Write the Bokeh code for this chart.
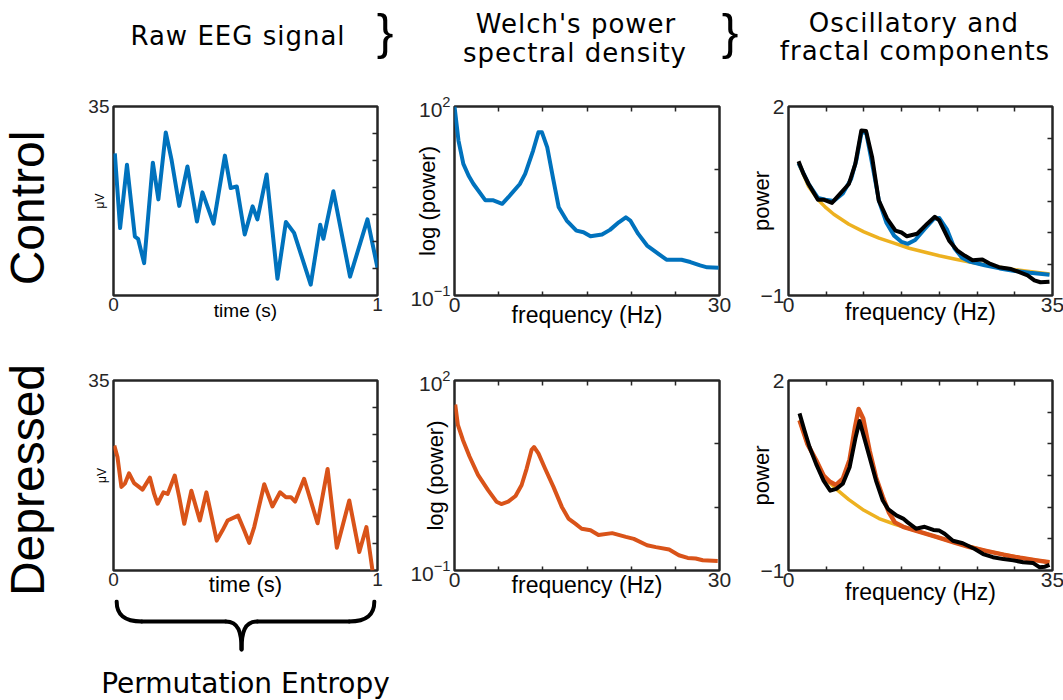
from bokeh.plotting import figure
from bokeh.models import Range1d, FixedTicker, LinearAxis, Div
from bokeh.layouts import row, column
from bokeh.embed import file_html
from bokeh.resources import INLINE

# ---------------- data ----------------
# Raw EEG, control (time in s, amplitude in uV)
ctrl_t = [0.005, 0.025, 0.051, 0.081, 0.093, 0.116, 0.149, 0.170, 0.198, 0.220, 0.249, 0.280,
          0.316, 0.337, 0.379, 0.422, 0.444, 0.467, 0.497, 0.527, 0.545, 0.580, 0.621, 0.653,
          0.684, 0.747, 0.783, 0.795, 0.833, 0.896, 0.962, 1.0]
ctrl_uv = [26.3, 12.5, 24.2, 10.9, 10.5, 6.0, 24.6, 17.8, 30.2, 25.1, 16.6, 23.9,
           13.7, 19.1, 13.3, 25.9, 19.9, 20.2, 11.3, 16.5, 14.1, 22.4, 3.1, 13.6,
           11.6, 2.0, 13.1, 10.5, 19.3, 3.5, 14.1, 5.1]
# Raw EEG, depressed
dep_t = [0.003, 0.015, 0.030, 0.043, 0.059, 0.078, 0.110, 0.138, 0.154, 0.167, 0.189, 0.205,
         0.232, 0.249, 0.268, 0.295, 0.327, 0.352, 0.391, 0.413, 0.432, 0.472, 0.495, 0.514,
         0.533, 0.571, 0.602, 0.631, 0.653, 0.672, 0.688, 0.722, 0.773, 0.811, 0.846, 0.893,
         0.931, 0.958, 0.981]
dep_uv = [23.0, 20.9, 15.4, 16.0, 17.9, 16.1, 14.9, 17.1, 14.1, 12.3, 14.4, 14.1,
          17.5, 13.5, 8.6, 14.7, 9.2, 14.4, 5.5, 7.4, 9.2, 10.1, 7.4, 5.1,
          8.0, 15.9, 11.8, 14.4, 13.5, 13.5, 12.7, 16.9, 8.7, 18.7, 4.2, 12.9,
          3.4, 8.0, 0.0]

# Welch PSD (frequency in Hz, power)
ctrl_psd_f = [0, 0.45, 1.0, 1.6, 2.15, 3.5, 4.4, 5.4, 6.1, 7.4, 8.0, 8.9, 9.5, 9.9, 10.5, 11.2,
              11.8, 12.7, 13.8, 14.6, 15.4, 16.7, 17.6, 18.6, 19.4, 19.9, 20.8, 21.8, 22.7,
              24.0, 25.7, 26.7, 27.8, 28.6, 29.9]
ctrl_psd = [100, 28.8, 12.3, 7.94, 5.89, 3.24, 3.24, 2.85, 3.63, 5.89, 8.51, 20.0, 38.9, 38.9,
            22.4, 6.76, 2.51, 1.55, 1.07, 1.01, 0.87, 0.93, 1.10, 1.45, 1.74, 1.55, 0.95, 0.62,
            0.50, 0.37, 0.37, 0.34, 0.30, 0.28, 0.275]
dep_psd_f = [0.08, 0.38, 0.95, 1.7, 2.66, 3.8, 4.75, 5.3, 6.08, 6.91, 7.6, 8.17, 8.73, 9.0, 9.5,
             10.25, 11.2, 12.15, 12.9, 13.67, 14.4, 15.4, 16.3, 17.85, 19.4, 20.3, 21.8, 22.8,
             24.3, 25.4, 26.4, 27.3, 28.1, 29.8]
dep_psd = [41.7, 20.0, 11.5, 6.31, 3.24, 1.86, 1.22, 1.12, 1.22, 1.50, 2.24, 4.07, 8.04, 8.91,
           7.08, 4.07, 2.09, 1.01, 0.66, 0.55, 0.457, 0.431, 0.363, 0.389, 0.339, 0.316, 0.251,
           0.234, 0.214, 0.174, 0.158, 0.155, 0.145, 0.141]

# Oscillatory and fractal components (log power)
ctrl_spec_f = [1.33, 2.0, 2.66, 3.9, 4.65, 5.76, 6.65, 8.0, 8.86, 9.66, 10.28, 11.08, 11.96,
               13.07, 14.18, 14.98, 15.7, 17.06, 18.4, 19.4, 20.0, 21.3, 22.4, 23.4, 24.4, 25.7,
               26.6, 27.9, 29.5, 30.6, 31.7, 32.6, 33.4, 34.6]
ctrl_spec = [1.13, 0.93, 0.77, 0.52, 0.52, 0.47, 0.59, 0.77, 1.09, 1.62, 1.61, 1.20, 0.51,
             0.22, 0.03, 0.0, -0.06, -0.02, 0.14, 0.25, 0.19, -0.13, -0.29, -0.37, -0.44, -0.43,
             -0.49, -0.55, -0.58, -0.63, -0.68, -0.76, -0.79, -0.78]
ctrl_model_f = [1.33, 2.66, 3.9, 4.9, 6.0, 7.2, 8.3, 9.0, 9.7, 10.3, 11.0, 12.0, 13.0, 14.0, 15.0,
                15.8, 16.8, 18.0, 19.3, 20.0, 21.0, 22.0, 23.0, 24.0, 26.0, 28.0, 30.0, 32.0, 34.6]
ctrl_model = [1.10, 0.77, 0.55, 0.52, 0.50, 0.62, 0.85, 1.15, 1.60, 1.58, 1.15, 0.50, 0.15,
              -0.05, -0.15, -0.18, -0.12, 0.05, 0.22, 0.23, 0.05, -0.25, -0.40, -0.46, -0.52,
              -0.57, -0.61, -0.64, -0.67]
ctrl_aper_f = [1.33, 2.66, 4.0, 5.0, 6.0, 8.0, 10.0, 12.0, 14.0, 16.0, 18.0, 20.0, 22.0, 24.0,
               27.0, 30.0, 34.6]
ctrl_aper = [1.10, 0.73, 0.51, 0.39, 0.29, 0.13, 0.01, -0.09, -0.17, -0.25, -0.31, -0.37, -0.42,
             -0.47, -0.53, -0.59, -0.66]

dep_spec_f = [1.46, 2.12, 2.79, 3.67, 4.65, 5.53, 6.33, 7.2, 8.1, 8.9, 9.42, 9.96, 10.75, 11.6,
              12.5, 13.2, 14.3, 15.2, 15.8, 16.9, 18.05, 19.2, 20.0, 20.7, 21.8, 23.1, 24.7, 25.8,
              27.1, 28.5, 29.8, 31.1, 32.4, 33.3, 34.0, 34.6]
dep_spec = [1.48, 1.21, 0.95, 0.68, 0.42, 0.26, 0.29, 0.37, 0.63, 1.105, 1.36, 1.13, 0.79, 0.42,
            0.105, -0.03, -0.13, -0.18, -0.24, -0.34, -0.31, -0.36, -0.37, -0.42, -0.53, -0.57,
            -0.66, -0.74, -0.79, -0.82, -0.84, -0.87, -0.88, -0.95, -0.94, -0.91]
dep_model_f = [1.46, 2.5, 3.67, 4.65, 5.5, 6.3, 7.2, 8.1, 8.8, 9.3, 9.9, 10.75, 11.6, 12.5, 13.3,
               14.1, 15.2, 17.4, 19.6, 21.8, 24.0, 26.2, 28.5, 30.7, 32.9, 34.6]
dep_model = [1.37, 1.0, 0.74, 0.50, 0.40, 0.35, 0.45, 0.75, 1.25, 1.55, 1.40, 0.89, 0.47, 0.16,
             -0.08, -0.24, -0.31, -0.39, -0.47, -0.55, -0.63, -0.69, -0.75, -0.80, -0.84, -0.87]
dep_aper_f = [1.46, 2.5, 3.67, 4.65, 5.5, 6.3, 8.0, 10.0, 12.0, 14.1, 17.4, 21.8, 26.2, 30.7, 34.6]
dep_aper = [1.37, 1.0, 0.74, 0.50, 0.38, 0.29, 0.12, -0.05, -0.18, -0.27, -0.39, -0.55, -0.69,
            -0.80, -0.87]

# ticks
raw_x_ticks = [0, 1]
raw_y_ticks = [35]
raw_y_minor = [5, 10, 15, 20, 25, 30]
psd_x_ticks = [0, 30]
psd_x_minor = [5, 10, 15, 20, 25]
psd_y_ticks = [0.1, 100]
psd_y_minor = [1, 10]
comp_x_ticks = [0, 35]
comp_x_minor = [5, 10, 15, 20, 25, 30]
comp_y_ticks = [-1, 2]
comp_y_minor = [-0.5, 0, 0.5, 1, 1.5]

# ---------------- styling / layout constants ----------------
BLUE = "#0072BD"
ORANGE = "#D95319"
YELLOW = "#EDB120"
BLACK = "#000000"
AX = "#262626"
TICKFONT = "Liberation Sans"
TITLEFONT = "DejaVu Sans"

HEAD_H = 85
SIDE_W = 60
COL_A = (53, 264, 33)
COL_B = (44, 265, 26)
COL_C = (38, 264, 16)
ROW_1 = (21, 189, 40)
ROW_2A = (45, 190, 28)
ROW_2 = (45, 190, 130)


def style_axis(ax, size, standoff, minor_in=4):
    ax.axis_line_color = None
    ax.major_tick_in = 0
    ax.major_tick_out = 0
    ax.minor_tick_in = minor_in
    ax.minor_tick_out = 0
    ax.minor_tick_line_color = AX
    ax.minor_tick_line_width = 1.5
    ax.major_label_text_font = TICKFONT
    ax.major_label_text_font_size = f"{size}px"
    ax.major_label_text_color = AX
    ax.major_label_standoff = standoff


def axis_label(ax, text, size, standoff):
    ax.axis_label = text
    ax.axis_label_text_font = TICKFONT
    ax.axis_label_text_font_size = f"{size}px"
    ax.axis_label_text_font_style = "normal"
    ax.axis_label_text_color = BLACK
    ax.axis_label_standoff = standoff


def panel(col, rowspec, x_range, y_range, xt, xm, yt, ym, fs, y_log=False, top=True):
    l, fw, r = col
    t, fh, b = rowspec
    p = figure(frame_width=fw, frame_height=fh, min_border_left=l, min_border_right=r,
               min_border_top=t, min_border_bottom=b, x_range=x_range, y_range=y_range,
               y_axis_type="log" if y_log else "linear", toolbar_location=None,
               output_backend="svg", border_fill_color="white", background_fill_color="white")
    p.grid.visible = False
    p.outline_line_color = AX
    p.outline_line_width = 2.5
    p.outline_line_alpha = 1.0
    bottom = p.below[0]
    left = p.left[0]
    bottom.ticker = FixedTicker(ticks=xt, minor_ticks=xm)
    left.ticker = FixedTicker(ticks=yt, minor_ticks=[])
    style_axis(bottom, fs, 2)
    style_axis(left, fs, 4, minor_in=0)
    ra = LinearAxis(ticker=FixedTicker(ticks=[], minor_ticks=ym))
    style_axis(ra, fs, 0, minor_in=5)
    p.add_layout(ra, "right")
    if top:
        ta = LinearAxis(ticker=FixedTicker(ticks=[], minor_ticks=xm))
        style_axis(ta, fs, 0, minor_in=5)
        p.add_layout(ta, "above")
    return p, bottom, left


def place(text, x, y, size, font, rotate=False, spacing=0):
    rot = " rotate(-90deg)" if rotate else ""
    return (f'<div style="position:absolute;left:{x}px;top:{y}px;'
            f'transform:translate(-50%,-50%){rot};font-family:\'{font}\';font-size:{size}px;'
            f'letter-spacing:{spacing}px;line-height:1;white-space:nowrap;color:#000;">'
            f'{text}</div>')


def text_box(items, w, h):
    html = f'<div style="position:relative;width:{w}px;height:{h}px;">' + "".join(items) + "</div>"
    return Div(text=html, width=w, height=h, margin=0)


# ---------------- header ----------------
header = text_box([
    place("Raw EEG signal", 238, 36, 26, TITLEFONT, spacing=1),
    place("}", 385, 32, 50, TICKFONT),
    place("Welch's power", 576, 24, 26, TITLEFONT, spacing=1),
    place("spectral density", 575, 53, 26, TITLEFONT, spacing=1),
    place("}", 730, 32, 50, TICKFONT),
    place("Oscillatory and", 914, 23, 26, TITLEFONT, spacing=1),
    place("fractal components", 915, 51, 26, TITLEFONT, spacing=1),
], 1063, HEAD_H)

side1 = text_box([place("Control", 28, 208 - HEAD_H, 48, TICKFONT, rotate=True)],
                 SIDE_W, sum(ROW_1))
side2 = text_box([place("Depressed", 28, 480 - HEAD_H - sum(ROW_1), 48, TICKFONT, rotate=True)],
                 SIDE_W, sum(ROW_2))

# ---------------- row 1 : control ----------------
pA1, bA1, lA1 = panel(COL_A, ROW_1, Range1d(0, 1), Range1d(0, 35), raw_x_ticks, [], raw_y_ticks,
                      raw_y_minor, 19, top=False)
pA1.line(ctrl_t, ctrl_uv, line_width=4, color=BLUE, line_join="round")
axis_label(lA1, "\u03bcV", 12, -22)
axis_label(bA1, "time (s)", 19, -14)

pB1, bB1, lB1 = panel(COL_B, ROW_1, Range1d(0, 30), Range1d(0.1, 100), psd_x_ticks, psd_x_minor,
                      psd_y_ticks, psd_y_minor, 21, y_log=True)
pB1.line(ctrl_psd_f, ctrl_psd, line_width=4, color=BLUE, line_join="round")
axis_label(lB1, "log (power)", 22, -33)
axis_label(bB1, "frequency (Hz)", 23, -13)

pC1, bC1, lC1 = panel(COL_C, ROW_1, Range1d(0, 35), Range1d(-1, 2), comp_x_ticks, comp_x_minor,
                      comp_y_ticks, comp_y_minor, 21)
pC1.line(ctrl_aper_f, ctrl_aper, line_width=3.5, color=YELLOW, line_join="round")
pC1.line(ctrl_model_f, ctrl_model, line_width=4, color=BLUE, line_join="round")
pC1.line(ctrl_spec_f, ctrl_spec, line_width=4, color=BLACK, line_join="round")
axis_label(lC1, "power", 22, -16)
axis_label(bC1, "frequency (Hz)", 23, -16)

# ---------------- row 2 : depressed ----------------
pA2, bA2, lA2 = panel(COL_A, ROW_2A, Range1d(0, 1), Range1d(0, 35), raw_x_ticks, [], raw_y_ticks,
                      raw_y_minor, 19, top=False)
pA2.line(dep_t, dep_uv, line_width=4, color=ORANGE, line_join="round")
axis_label(lA2, "\u03bcV", 12, -24)
axis_label(bA2, "time (s)", 22, -17)

# footer: brace under the raw signal and "Permutation Entropy"
FOOT_FH = 54
FOOT_B = sum(ROW_2) - sum(ROW_2A) - FOOT_FH
fl, fw, fr = COL_A
foot = figure(frame_width=fw, frame_height=FOOT_FH, min_border_left=fl, min_border_right=fr,
              min_border_top=0, min_border_bottom=FOOT_B, x_range=Range1d(0, 1),
              y_range=Range1d(0, FOOT_FH), y_axis_location=None, toolbar_location=None,
              output_backend="svg", border_fill_color="white", background_fill_color="white")
foot.grid.visible = False
foot.outline_line_color = None
fax = foot.below[0]
fax.ticker = FixedTicker(ticks=[], minor_ticks=[])
fax.axis_line_color = None
fax.major_tick_in = 0
fax.major_tick_out = 0
fax.minor_tick_in = 0
fax.minor_tick_out = 0
fax.major_label_standoff = 0
fax.axis_label = "Permutation Entropy"
fax.axis_label_text_font = TITLEFONT
fax.axis_label_text_font_size = "28px"
fax.axis_label_text_font_style = "normal"
fax.axis_label_text_color = BLACK
fax.axis_label_standoff = 13

# brace geometry (x in the time axis units, y in pixels of the footer frame)
b_l, b_r, b_c = 0.012, 0.988, 0.485
tip_y, body_y, point_y = 52, 32, 4
arm, bend, mid = 0.095, 0.027, 0.06
foot.bezier(x0=[b_l, b_r, b_c - mid, b_c + mid],
            y0=[tip_y, tip_y, body_y, body_y],
            x1=[b_l + arm, b_r - arm, b_c, b_c],
            y1=[body_y, body_y, point_y, point_y],
            cx0=[b_l, b_r, b_c - 0.011, b_c + 0.011],
            cy0=[tip_y - 13, tip_y - 13, body_y, body_y],
            cx1=[b_l + bend, b_r - bend, b_c, b_c],
            cy1=[body_y, body_y, body_y - 11, body_y - 11],
            line_width=4, line_color=BLACK, line_cap="round")
foot.segment(x0=[b_l + arm, b_c + mid], y0=[body_y, body_y],
             x1=[b_c - mid, b_r - arm], y1=[body_y, body_y],
             line_width=4, line_color=BLACK, line_cap="round")

pB2, bB2, lB2 = panel(COL_B, ROW_2, Range1d(0, 30), Range1d(0.1, 100), psd_x_ticks, psd_x_minor,
                      psd_y_ticks, psd_y_minor, 21, y_log=True)
pB2.line(dep_psd_f, dep_psd, line_width=4, color=ORANGE, line_join="round")
axis_label(lB2, "log (power)", 22, -41)
axis_label(bB2, "frequency (Hz)", 23, -18)

pC2, bC2, lC2 = panel(COL_C, ROW_2, Range1d(0, 35), Range1d(-1, 2), comp_x_ticks, comp_x_minor,
                      comp_y_ticks, comp_y_minor, 21)
pC2.line(dep_aper_f, dep_aper, line_width=3.5, color=YELLOW, line_join="round")
pC2.line(dep_model_f, dep_model, line_width=4.5, color=ORANGE, line_join="round")
pC2.line(dep_spec_f, dep_spec, line_width=4, color=BLACK, line_join="round")
axis_label(lC2, "power", 22, -16)
axis_label(bC2, "frequency (Hz)", 23, -11)

layout = column(header,
                row(side1, pA1, pB1, pC1),
                row(side2, column(pA2, foot), pB2, pC2))

open("out.html", "w").write(file_html(layout, INLINE))
